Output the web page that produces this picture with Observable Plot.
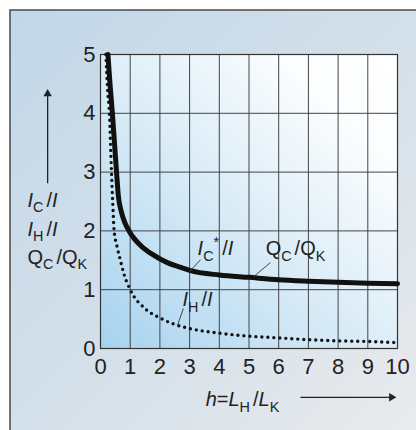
<!DOCTYPE html>
<html><head><meta charset="utf-8">
<script src="https://cdn.jsdelivr.net/npm/d3@7"></script>
<script src="https://cdn.jsdelivr.net/npm/@observablehq/plot@0.6"></script>
<style>body{margin:0;background:#fff}#chart{width:416px;height:430px;overflow:hidden}</style>
</head><body><div id="chart"></div>
<script>
// ---- data ----
const xTicks = [0,1,2,3,4,5,6,7,8,9,10];
const yTicks = [0,1,2,3,4,5];
// I_C*/I  (= Q_C/Q_K), solid curve
const hSolid  = [0.25,0.32,0.4,0.47,0.54,0.6,0.7,0.82,0.96,1.15,1.4,1.75,2.25,2.7,3,4,5,6,7,8,9,10];
const icSolid = [5.0,4.5,4.0,3.5,3.0,2.6,2.33,2.14,2.0,1.86,1.73,1.6,1.46,1.38,1.33,1.25,1.21,1.17,1.145,1.125,1.11,1.1];
// I_H/I, dotted curve
const hDotted  = [0.18,0.24,0.3,0.37,0.41,0.46,0.55,0.67,0.8,1.0,1.5,2,2.5,3,4,5,6,7,8,9,10];
const ihDotted = [5.0,4.4,4.0,3.0,2.5,2.0,1.75,1.5,1.25,1.0,0.68,0.52,0.41,0.34,0.26,0.21,0.18,0.15,0.13,0.12,0.1];
const yLabelLines = ["I_{C}/I", "I_{H}/I", "Q_{C}/Q_{K}"];
const curveLabels = ["I_{C}^{*}/I", "Q_{C}/Q_{K}", "I_{H}/I"];
const xLabel = "h=L_{H}/L_{K}";

const solid = hSolid.map((h,i)=>({h, v: icSolid[i]}));
const dotted = hDotted.map((h,i)=>({h, v: ihDotted[i]}));

const annot = [
  {label: curveLabels[0], x: 3.27, y: 1.70, lx1: 3.0, ly1: 1.31, lx2: 3.37, ly2: 1.51},
  {label: curveLabels[1], x: 5.56, y: 1.70, lx1: 5.15, ly1: 1.22, lx2: 5.72, ly2: 1.46},
  {label: curveLabels[2], x: 2.76, y: 0.83, lx1: 2.59, ly1: 0.39, lx2: 2.79, ly2: 0.68}
];
const yLab = [
  {label: yLabelLines[0], x: -2.46, y: 2.52},
  {label: yLabelLines[1], x: -2.46, y: 2.03},
  {label: yLabelLines[2], x: -2.46, y: 1.55}
];
const xLab = [{label: xLabel, x: 3.54, y: -0.87}];

const backdrop = () => {
  const g = d3.create("svg:g");
  const defs = g.append("defs");
  const og = defs.append("linearGradient").attr("id","outerGrad")
    .attr("x1",0).attr("y1",0).attr("x2",1).attr("y2",1);
  og.append("stop").attr("offset",0).attr("stop-color","#c2d7e8");
  og.append("stop").attr("offset",0.55).attr("stop-color","#d6e1ea");
  og.append("stop").attr("offset",1).attr("stop-color","#ececed");
  const pg = defs.append("linearGradient").attr("id","plotGrad")
    .attr("x1",0).attr("y1",1).attr("x2",1).attr("y2",0);
  pg.append("stop").attr("offset",0).attr("stop-color","#a6d2ef");
  pg.append("stop").attr("offset",0.4).attr("stop-color","#d4e9f6");
  pg.append("stop").attr("offset",0.8).attr("stop-color","#fbfdfe");
  pg.append("stop").attr("offset",1).attr("stop-color","#ffffff");
  g.append("rect").attr("x",10).attr("y",10).attr("width",430).attr("height",440)
    .attr("fill","url(#outerGrad)").attr("stroke","#4a4a4a").attr("stroke-width",1.5);
  return g.node();
};

const plot = Plot.plot({
  width: 416, height: 430,
  marginLeft: 100, marginRight: 19, marginTop: 54, marginBottom: 82,
  style: {fontFamily: "'Liberation Sans', Arial, sans-serif", fontSize: "20px", color: "#222", background: "transparent", overflow: "visible"},
  x: {domain: [0,10], label: null},
  y: {domain: [0,5], label: null},
  marks: [
    backdrop,
    Plot.frame({fill: "url(#plotGrad)", stroke: null}),
    Plot.ruleX(xTicks, {stroke: "#444", strokeWidth: 1}),
    Plot.ruleY(yTicks, {stroke: "#444", strokeWidth: 1}),
    Plot.frame({stroke: "#333", strokeWidth: 1.2}),
    Plot.line(dotted, {x: "h", y: "v", stroke: "#111", strokeWidth: 3.4, strokeDasharray: "0 6", strokeLinecap: "round", curve: "monotone-x"}),
    Plot.line(solid, {x: "h", y: "v", stroke: "#111", strokeWidth: 5, curve: "monotone-x"}),
    Plot.link(annot, {x1: "lx1", y1: "ly1", x2: "lx2", y2: "ly2", stroke: "#444", strokeWidth: 1}),
    Plot.text(annot, {x: "x", y: "y", text: "label", textAnchor: "start", lineAnchor: "middle", fill: "#222", fontSize: 20, className: "rich"}),
    Plot.text(yLab, {x: "x", y: "y", text: "label", textAnchor: "start", lineAnchor: "middle", fill: "#222", fontSize: 20, className: "rich"}),
    Plot.text(xLab, {x: "x", y: "y", text: "label", textAnchor: "start", lineAnchor: "middle", fill: "#222", fontSize: 20, className: "rich"}),
    // axis arrows
    Plot.link([{x1: 6.73, y1: -0.83, x2: 9.75, y2: -0.83}], {x1: "x1", y1: "y1", x2: "x2", y2: "y2", stroke: "#222", strokeWidth: 1.3}),
    Plot.dot([{x: 9.8, y: -0.83}], {x: "x", y: "y", symbol: "triangle2", rotate: 90, r: 4, fill: "#222", stroke: null}),
    Plot.link([{x1: -1.78, y1: 2.81, x2: -1.78, y2: 4.3}], {x1: "x1", y1: "y1", x2: "x2", y2: "y2", stroke: "#222", strokeWidth: 1.3}),
    Plot.dot([{x: -1.78, y: 4.33}], {x: "x", y: "y", symbol: "triangle2", r: 4, fill: "#222", stroke: null}),
    // axes drawn last so the backdrop does not cover them
    Plot.axisX({ticks: xTicks, tickSize: 0, tickPadding: 10, fontSize: 22, label: null, tickFormat: d => String(d), fill: "#222"}),
    Plot.axisY({ticks: yTicks, tickSize: 0, tickPadding: 5, fontSize: 22, label: null, tickFormat: d => String(d), fill: "#222"})
  ]
});

// rich text: subscripts / superscripts / italic variables
function renderRich(el) {
  const s = el.textContent;
  const t = d3.select(el);
  t.text(null);
  const fs = parseFloat(el.getAttribute("font-size")) || parseFloat(el.parentNode.getAttribute("font-size")) || 20;
  let shift = 0, i = 0;
  while (i < s.length) {
    let mode = "n", chunk;
    if ((s[i] === "_" || s[i] === "^") && s[i+1] === "{") {
      mode = s[i]; const j = s.indexOf("}", i); chunk = s.slice(i+2, j); i = j + 1;
    } else { chunk = s[i]; i++; }
    const target = mode === "_" ? 0.28 * fs : mode === "^" ? -0.42 * fs : 0;
    for (const ch of chunk) {
      const ts = t.append("tspan").text(ch).attr("dy", (target - shift) + "px");
      shift = target;
      if (mode !== "n") ts.attr("font-size", (0.72 * fs) + "px");
      if (mode === "n" && "IhL".includes(ch)) ts.attr("font-style", "italic");
      if (ch === "/") ts.attr("dx", "3px");
    }
  }
}
document.getElementById("chart").append(plot);
plot.querySelectorAll(".rich text").forEach(renderRich);
</script>
</body></html>
